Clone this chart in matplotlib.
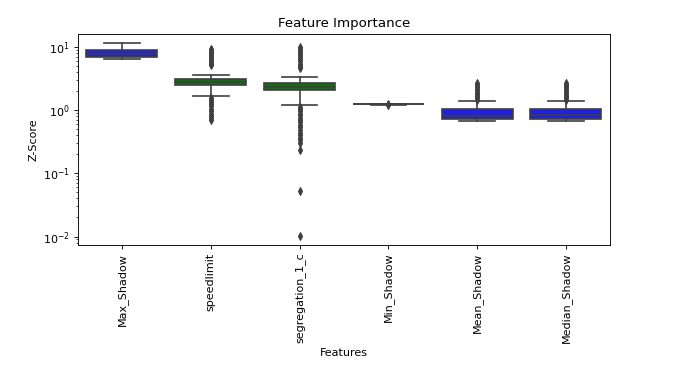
import matplotlib
matplotlib.use('Agg')
import matplotlib.pyplot as plt

# feature names in plot order
features = ['Max_Shadow', 'speedlimit', 'segregation_1_c',
            'Min_Shadow', 'Mean_Shadow', 'Median_Shadow']

# box statistics (Z-Score, log scale)
q1 = [6.9, 2.46, 2.05, 1.225, 0.73, 0.73]
med = [7.8, 2.74, 2.33, 1.232, 0.81, 0.82]
q3 = [9.0, 3.09, 2.70, 1.24, 1.02, 1.02]
whislo = [6.3, 1.66, 1.19, 1.215, 0.67, 0.67]
whishi = [11.5, 3.57, 3.36, 1.25, 1.40, 1.40]

fliers = [
    [],
    [5.1, 5.4, 5.8, 6.2, 6.6, 7.0, 7.4, 7.9, 8.4, 8.9, 9.3,
     1.55, 1.45, 1.35, 1.25, 1.15, 1.05, 0.96, 0.88, 0.80, 0.74, 0.70],
    [4.6, 5.0, 5.4, 5.9, 6.4, 6.9, 7.4, 8.0, 8.6, 9.2, 9.8,
     1.12, 1.04, 0.96, 0.88, 0.82, 0.76, 0.70, 0.64, 0.58, 0.53,
     0.48, 0.44, 0.40, 0.36, 0.33, 0.30, 0.23, 0.052, 0.0102],
    [1.26, 1.20],
    [1.45, 1.55, 1.65, 1.76, 1.88, 2.0, 2.15, 2.3, 2.47, 2.65],
    [1.45, 1.55, 1.65, 1.76, 1.88, 2.0, 2.15, 2.3, 2.47, 2.65],
]

box_colors = ['#2020df', '#107010', '#107010', '#2020df', '#2020df', '#2020df']
line_col = '#3f3f3f'

stats = []
for i in range(len(features)):
    stats.append({'q1': q1[i], 'med': med[i], 'q3': q3[i],
                  'whislo': whislo[i], 'whishi': whishi[i],
                  'fliers': fliers[i]})

fig = plt.figure(figsize=(697 / 80, 378 / 80), dpi=80)
ax = fig.add_axes([0.1113, 0.352, 0.7644, 0.558])

bp = ax.bxp(stats, positions=range(len(features)), widths=0.8,
            patch_artist=True, showfliers=True,
            boxprops=dict(edgecolor=line_col, linewidth=1.5),
            medianprops=dict(color=line_col, linewidth=1.5),
            whiskerprops=dict(color=line_col, linewidth=1.5),
            capprops=dict(color=line_col, linewidth=1.5),
            flierprops=dict(marker='d', markerfacecolor=line_col,
                            markeredgecolor=line_col, markersize=5,
                            linestyle='none'))
for patch, c in zip(bp['boxes'], box_colors):
    patch.set_facecolor(c)

ax.set_yscale('log')
ax.set_ylim(0.00736, 15.9)
ax.set_xlim(-0.5, len(features) - 0.5)
ax.set_xticks(range(len(features)))
ax.set_xticklabels(features, rotation=90)
ax.set_title('Feature Importance')
ax.set_xlabel('Features')
ax.set_ylabel('Z-Score')

fig.savefig('out.png', dpi=80)
